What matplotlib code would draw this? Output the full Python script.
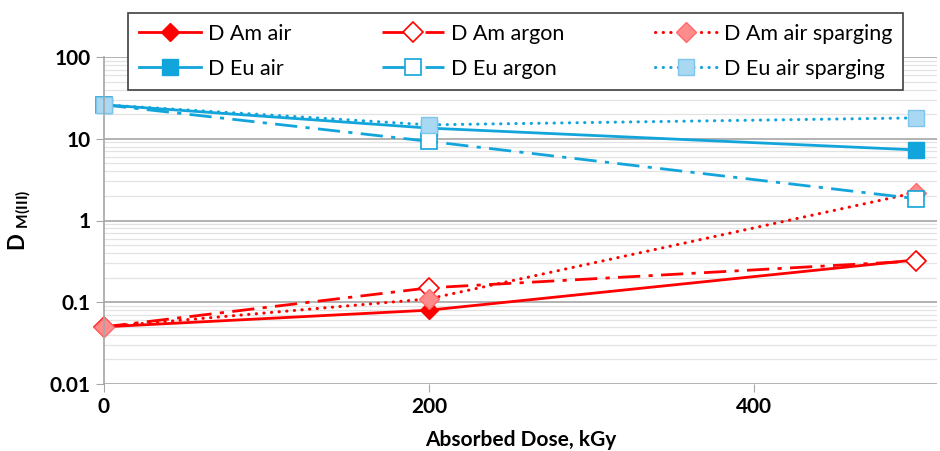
import matplotlib.pyplot as plt
from matplotlib.ticker import LogLocator, NullFormatter, FixedLocator

plt.rcParams['font.family'] = ['Lato', 'DejaVu Sans']
plt.rcParams['mathtext.fontset'] = 'custom'
plt.rcParams['mathtext.rm'] = 'Lato'
plt.rcParams['mathtext.bf'] = 'Lato:bold'

dose = [0, 200, 500]
d_am_air = [0.05, 0.08, 0.33]
d_am_argon = [0.05, 0.15, 0.32]
d_am_sparging = [0.05, 0.11, 2.2]
d_eu_air = [26, 13.5, 7.3]
d_eu_argon = [26, 9.3, 1.85]
d_eu_sparging = [26, 14.8, 18.0]

red = '#ff0000'
blue = '#12a5dc'

fig = plt.figure(figsize=(9.4, 4.51), dpi=100)
ax = fig.add_axes([104 / 940, 1 - 384 / 451, 1 - 104 / 940 - 0.003, (384 - 57) / 451])

lw = 2.0
h_am_air, = ax.plot(dose, d_am_air, color=red, lw=lw, marker='D', ms=9,
                    mfc=red, mec=red, label='D Am air', clip_on=False)
h_am_argon, = ax.plot(dose, d_am_argon, color=red, lw=lw, ls=(0, (8, 3, 1.5, 3)),
                      marker='D', ms=10, mfc='white', mec=red, mew=1.2,
                      label='D Am argon', clip_on=False)
h_am_sp, = ax.plot(dose, d_am_sparging, color=red, lw=2.2, ls=(0, (0.1, 2.4)),
                   dash_capstyle='round', marker='D', ms=10, mfc='#ff8c8c',
                   mec='#ff6a6a', mew=1.0, label='D Am air sparging', clip_on=False)
h_eu_air, = ax.plot(dose, d_eu_air, color=blue, lw=lw, marker='s', ms=12,
                    mfc=blue, mec=blue, label='D Eu air', clip_on=False)
h_eu_argon, = ax.plot(dose, d_eu_argon, color=blue, lw=lw, ls=(0, (8, 3, 1.5, 3)),
                      marker='s', ms=12, mfc='white', mec=blue, mew=1.2,
                      label='D Eu argon', clip_on=False)
h_eu_sp, = ax.plot(dose, d_eu_sparging, color=blue, lw=2.2, ls=(0, (0.1, 2.4)),
                   dash_capstyle='round', marker='s', ms=12, mfc='#a9d8f2',
                   mec='#7fc4ea', mew=1.0, label='D Eu air sparging', clip_on=False)

ax.set_yscale('log')
ax.set_ylim(0.01, 100)
ax.set_xlim(0, 513)
ax.xaxis.set_major_locator(FixedLocator([0, 200, 400]))
ax.yaxis.set_minor_locator(LogLocator(base=10, subs=range(2, 10), numticks=20))
ax.yaxis.set_minor_formatter(NullFormatter())
ax.set_yticks([0.01, 0.1, 1, 10, 100])
ax.set_yticklabels(['0.01', '0.1', '1', '10', '100'])

ax.grid(True, which='major', axis='y', color='#a6a6a6', lw=1.2)
ax.grid(True, which='minor', axis='y', color='#e3e3e3', lw=0.9)
ax.set_axisbelow(True)
for s in ['top', 'right', 'bottom']:
    ax.spines[s].set_visible(False)
ax.spines['left'].set_color('#a6a6a6')
ax.spines['left'].set_linewidth(1.2)
ax.tick_params(axis='both', which='major', length=6, color='#a6a6a6', labelsize=15)
ax.tick_params(axis='y', which='minor', length=0)
for t in ax.get_xticklabels() + ax.get_yticklabels():
    t.set_fontweight('bold')

ax.set_xlabel('Absorbed Dose, kGy', fontsize=15, fontweight='bold', labelpad=9)
ax.set_ylabel(r'$\mathbf{D}$ $_{\mathbf{M(III)}}$', fontsize=16, labelpad=12)

handles = [h_am_air, h_eu_air, h_am_argon, h_eu_argon, h_am_sp, h_eu_sp]
leg = ax.legend(handles=handles, ncol=3, loc='upper left', mode='expand',
                bbox_to_anchor=(128 / 940, 1 - 83 / 451, (903 - 128) / 940, 70 / 451),
                bbox_transform=fig.transFigure, fontsize=15.5, frameon=True,
                fancybox=False, framealpha=1, edgecolor='#404040',
                handlelength=2.9, handletextpad=0.3, borderaxespad=0,
                labelspacing=0.7, borderpad=0.5)
leg.get_frame().set_linewidth(1.2)
leg.set_zorder(5)

fig.savefig('out.png', dpi=100)
